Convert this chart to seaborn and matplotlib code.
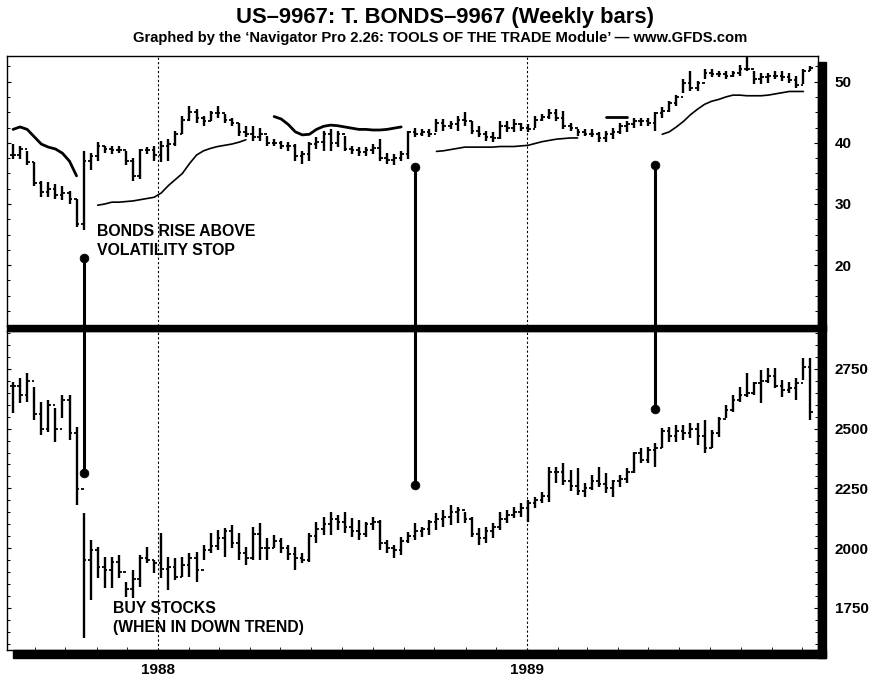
import numpy as np
import pandas as pd
import matplotlib
matplotlib.use("Agg")
import matplotlib.pyplot as plt
import matplotlib.dates as mdates
from matplotlib.patches import Rectangle
from matplotlib.ticker import MultipleLocator
import seaborn as sns

# ---- data (weekly bars, Aug 1987 - Oct 1989) ----
weeks = pd.date_range("1987-08-10", periods=114, freq="W-MON")

bond_high = [39.8, 39.5, 38.7, 36.8, 33.8, 33.6, 33.3, 33.0, 32.2, 30.8,
             38.7, 38.4, 40.1, 39.5, 39.5, 39.5, 38.7, 37.6, 39.0, 39.3,
             39.5, 40.3, 40.6, 42.0, 44.4, 46.0, 45.5, 44.4, 45.2, 46.0,
             44.7, 44.1, 43.3, 42.8, 42.8, 42.5, 41.2, 40.6, 40.3, 40.1,
             39.8, 38.7, 40.1, 40.9, 42.0, 42.2, 42.0, 41.2, 39.5, 39.3,
             39.3, 39.8, 40.6, 38.4, 38.2, 38.7, 42.0, 42.5, 42.2, 42.2,
             43.9, 43.9, 43.6, 44.4, 45.0, 43.6, 42.8, 42.0, 41.7, 43.6,
             43.6, 43.9, 43.3, 43.1, 44.4, 44.7, 45.5, 45.5, 45.2, 43.3,
             42.2, 42.2, 42.2, 41.7, 42.0, 42.5, 43.3, 43.6, 44.1, 44.1,
             44.1, 45.0, 45.8, 46.9, 47.9, 50.4, 51.7, 50.1, 52.0, 52.0,
             51.7, 51.7, 51.7, 52.8, 54.5, 51.7, 51.5, 51.5, 51.7, 51.7,
             51.5, 50.9, 52.0, 52.6]
bond_low = [37.4, 37.4, 36.3, 33.0, 31.1, 31.1, 30.8, 30.6, 30.0, 26.2,
            25.7, 35.5, 37.1, 38.4, 38.2, 38.4, 36.3, 33.8, 34.1, 38.2,
            37.1, 36.8, 37.1, 39.5, 41.4, 43.6, 43.3, 42.8, 43.6, 44.1,
            43.3, 42.8, 41.2, 40.9, 40.3, 40.3, 39.5, 39.5, 39.0, 38.7,
            37.1, 36.5, 37.1, 39.0, 38.7, 38.7, 39.3, 38.7, 38.2, 37.9,
            37.9, 38.2, 37.1, 36.5, 36.3, 37.1, 37.4, 40.9, 41.2, 40.9,
            41.7, 42.0, 42.2, 42.0, 42.8, 41.4, 40.9, 40.3, 40.1, 40.6,
            41.7, 41.7, 42.0, 41.7, 42.5, 43.6, 43.9, 43.6, 42.2, 42.0,
            41.2, 41.2, 40.9, 40.1, 40.1, 40.6, 41.4, 41.7, 42.5, 42.8,
            42.8, 42.0, 44.1, 45.0, 46.0, 48.2, 48.5, 48.5, 50.4, 50.7,
            50.7, 50.4, 50.7, 50.9, 51.7, 49.6, 49.6, 49.8, 50.4, 50.1,
            49.8, 49.0, 49.6, 51.7]
bond_close = [38.0, 39.0, 36.8, 33.5, 32.0, 32.5, 31.5, 31.8, 30.8, 26.8,
              37.0, 37.8, 39.5, 39.0, 38.8, 38.8, 37.0, 34.5, 38.8, 38.8,
              38.0, 39.5, 39.8, 41.5, 43.8, 45.0, 44.0, 43.5, 44.8, 44.8,
              43.8, 43.2, 41.8, 41.5, 41.0, 41.5, 40.0, 40.0, 39.5, 39.5,
              37.8, 38.2, 39.8, 40.2, 41.5, 40.0, 41.5, 39.0, 38.8, 38.5,
              38.8, 39.2, 37.5, 37.2, 37.5, 38.2, 41.8, 41.5, 41.8, 41.5,
              43.2, 42.8, 43.0, 43.8, 43.5, 42.0, 41.5, 41.0, 40.8, 42.8,
              42.5, 43.0, 42.5, 42.2, 43.8, 44.2, 44.8, 44.0, 42.8, 42.5,
              41.8, 41.5, 41.5, 40.8, 41.5, 41.8, 42.8, 43.0, 43.5, 43.5,
              43.2, 44.8, 45.2, 46.5, 47.5, 49.8, 49.0, 49.8, 51.5, 51.2,
              51.2, 51.0, 51.5, 52.0, 52.0, 50.5, 50.8, 51.0, 51.0, 50.8,
              50.2, 49.5, 51.8, 52.2]

# volatility stop, keyed by first week index of each segment
stop_short = {0: [42.2, 42.6, 42.2, 41.0, 39.8, 39.3, 39.0, 38.3, 37.0, 34.6],
              37: [44.3, 43.9, 43.0, 41.8, 41.3, 41.4, 42.2, 42.7, 42.9, 42.8,
                   42.6, 42.4, 42.2, 42.2, 42.1, 42.1, 42.2, 42.4, 42.6],
              84: [44.3, 44.3, 44.3, 44.3]}
stop_long = {12: [29.8, 30.0, 30.3, 30.3, 30.4, 30.5, 30.7, 30.9, 31.1, 31.8, 33.0,
                  34.0, 35.0, 36.6, 38.0, 38.7, 39.1, 39.4, 39.6, 39.8, 40.1, 40.5],
             60: [38.6, 38.7, 38.9, 39.1, 39.3, 39.3, 39.3, 39.3, 39.3, 39.4, 39.4,
                  39.4, 39.5, 39.6, 39.9, 40.2, 40.4, 40.6, 40.7, 40.8, 40.8],
             92: [41.4, 41.8, 42.6, 43.5, 44.6, 45.5, 46.3, 46.8, 47.1, 47.5, 47.8,
                  47.8, 47.7, 47.7, 47.7, 47.8, 48.0, 48.2, 48.4, 48.4, 48.4]}

djia_high = [2697, 2711, 2732, 2676, 2613, 2620, 2585, 2641, 2641, 2508,
             2145, 2034, 2006, 1964, 1964, 1971, 1859, 1908, 1971, 2006,
             1950, 2062, 1964, 1957, 1964, 1978, 1985, 2013, 2062, 2075,
             2082, 2096, 2062, 2006, 2089, 2103, 2041, 2055, 2041, 2013,
             2006, 1978, 2062, 2110, 2131, 2152, 2138, 2152, 2124, 2117,
             2110, 2131, 2117, 2034, 2013, 2048, 2069, 2103, 2089, 2117,
             2145, 2159, 2180, 2173, 2152, 2131, 2082, 2089, 2103, 2152,
             2159, 2173, 2187, 2201, 2215, 2236, 2341, 2341, 2355, 2327,
             2334, 2271, 2306, 2341, 2313, 2285, 2306, 2334, 2404, 2418,
             2425, 2439, 2501, 2508, 2515, 2515, 2522, 2522, 2536, 2494,
             2550, 2599, 2641, 2676, 2732, 2697, 2746, 2753, 2753, 2704,
             2697, 2711, 2795, 2795]
djia_low = [2564, 2606, 2613, 2536, 2473, 2487, 2446, 2543, 2453, 2180,
            1622, 1782, 1873, 1831, 1831, 1873, 1796, 1789, 1838, 1936,
            1894, 1873, 1824, 1866, 1880, 1880, 1859, 1950, 1978, 1992,
            1964, 1999, 1950, 1929, 1950, 1950, 1950, 1999, 1978, 1950,
            1908, 1936, 1943, 2020, 2055, 2055, 2075, 2062, 2048, 2034,
            2048, 2075, 1992, 1978, 1957, 1971, 2020, 2034, 2048, 2055,
            2075, 2089, 2096, 2103, 2103, 2048, 2013, 2020, 2041, 2075,
            2103, 2124, 2131, 2110, 2166, 2187, 2194, 2271, 2264, 2240,
            2222, 2215, 2243, 2257, 2229, 2215, 2257, 2271, 2313, 2355,
            2355, 2341, 2418, 2446, 2446, 2453, 2460, 2432, 2397, 2418,
            2466, 2543, 2571, 2613, 2634, 2641, 2606, 2690, 2669, 2634,
            2648, 2620, 2704, 2536]
djia_close = [2680, 2640, 2700, 2560, 2500, 2600, 2500, 2620, 2480, 2246,
              1950, 1990, 1920, 1910, 1940, 1900, 1830, 1870, 1960, 1950,
              1938, 1911, 1920, 1880, 1930, 1960, 1910, 1990, 2010, 2040,
              2070, 2020, 1980, 1960, 2060, 2000, 2000, 2030, 2000, 1975,
              1960, 1950, 2050, 2080, 2100, 2120, 2110, 2090, 2070, 2060,
              2100, 2110, 2020, 2000, 1990, 2030, 2050, 2070, 2080, 2110,
              2120, 2130, 2150, 2160, 2120, 2060, 2040, 2070, 2090, 2120,
              2140, 2150, 2168, 2190, 2200, 2220, 2320, 2320, 2280, 2260,
              2240, 2250, 2280, 2270, 2250, 2280, 2290, 2320, 2400, 2370,
              2410, 2420, 2490, 2470, 2490, 2480, 2500, 2470, 2420, 2480,
              2540, 2580, 2620, 2640, 2650, 2690, 2700, 2720, 2680, 2660,
              2670, 2690, 2760, 2570]

# signals linking the two panels
signal_week = [10, 57, 91]
bond_dot = [21.1, 36.0, 36.4]
stock_dot = [2314, 2264, 2582]

year_lines = pd.to_datetime(["1988-01-01", "1989-01-01"])

# ---- styling ----
sns.set_theme(style="white")
plt.rcParams["font.family"] = ["Liberation Sans", "DejaVu Sans"]
plt.rcParams["font.weight"] = "bold"
plt.rcParams["text.color"] = "black"

W, H = 872, 679
fig = plt.figure(figsize=(W / 100, H / 100), dpi=100)


def px_box(x0, y0, x1, y1):
    # pixel box (top-left origin) -> figure fraction [l, b, w, h]
    return [x0 / W, 1 - y1 / H, (x1 - x0) / W, (y1 - y0) / H]


ax1 = fig.add_axes(px_box(7, 56, 818, 326))
ax2 = fig.add_axes(px_box(7, 331, 818, 650), sharex=ax1)

# drop shadow / divider bars
for b in [(818, 62, 826, 658), (13, 650, 826, 658), (7, 325, 826, 331)]:
    l, bt, w, h = px_box(*b)
    fig.patches.append(Rectangle((l, bt), w, h, transform=fig.transFigure,
                                 color="black", zorder=5))


def ohlc(ax, hi, lo, cl):
    cl = np.asarray(cl, dtype=float)
    op = np.r_[cl[0], cl[:-1]]
    tick = pd.Timedelta(days=2.6)
    ax.vlines(weeks, lo, hi, color="black", lw=1.7, zorder=3)
    ax.hlines(op, weeks - tick, weeks, color="black", lw=1.3, zorder=3)
    ax.hlines(cl, weeks, weeks + tick, color="black", lw=1.3, zorder=3)


def stop_frame(segs):
    rows = []
    for k, (start, vals) in enumerate(segs.items()):
        for j, v in enumerate(vals):
            rows.append({"date": weeks[start + j], "stop": v, "seg": k})
    return pd.DataFrame(rows)


ohlc(ax1, bond_high, bond_low, bond_close)
sns.lineplot(data=stop_frame(stop_short), x="date", y="stop", units="seg",
             estimator=None, color="black", lw=2.0, ax=ax1)
sns.lineplot(data=stop_frame(stop_long), x="date", y="stop", units="seg",
             estimator=None, color="black", lw=1.2, ax=ax1)

ohlc(ax2, djia_high, djia_low, djia_close)

ylim1 = (10.05, 54.2)
ylim2 = (1573, 2909)
sig_dates = weeks[signal_week]
ax1.vlines(sig_dates, ylim1[0], bond_dot, color="black", lw=2.2, zorder=4)
ax2.vlines(sig_dates, stock_dot, ylim2[1], color="black", lw=2.2, zorder=4)
sns.scatterplot(x=sig_dates, y=bond_dot, color="black", s=40, ax=ax1, zorder=5,
                edgecolor="black")
sns.scatterplot(x=sig_dates, y=stock_dot, color="black", s=40, ax=ax2, zorder=5,
                edgecolor="black")

for ax in (ax1, ax2):
    for d in year_lines:
        ax.axvline(d, color="black", lw=0.8, ls=(0, (2, 2)), zorder=1)
    for s in ax.spines.values():
        s.set_color("black")
        s.set_linewidth(1.0)
    ax.set_xlabel("")
    ax.set_ylabel("")
    ax.yaxis.tick_right()
    ax.tick_params(axis="y", which="major", direction="in", length=3, width=0.8,
                   pad=12, labelsize=11, colors="black", left=True, right=True)
    ax.tick_params(axis="y", which="minor", direction="in", length=2.5, width=0.7,
                   left=True, right=True, colors="black")

ax1.set_xlim(weeks[0] - pd.Timedelta(days=6), weeks[-1] + pd.Timedelta(days=7.5))
ax1.set_ylim(*ylim1)
ax1.set_yticks([20, 30, 40, 50])
ax1.yaxis.set_minor_locator(MultipleLocator(2.5))
ax2.set_ylim(*ylim2)
ax2.set_yticks([1750, 2000, 2250, 2500, 2750])
ax2.yaxis.set_minor_locator(MultipleLocator(50))

ax1.tick_params(axis="x", which="both", bottom=False, labelbottom=False)
ax2.set_xticks(year_lines)
ax2.set_xticklabels(["1988", "1989"])
ax2.xaxis.set_minor_locator(mdates.MonthLocator())
ax2.tick_params(axis="x", which="major", length=0, pad=9, labelsize=11,
                colors="black")
ax2.tick_params(axis="x", which="minor", direction="in", length=2.5, width=0.7,
                bottom=True)
for lab in ax1.get_yticklabels() + ax2.get_yticklabels() + ax2.get_xticklabels():
    lab.set_fontweight("bold")

ax1.text(0.111, 0.378, "BONDS RISE ABOVE\nVOLATILITY STOP", transform=ax1.transAxes,
         ha="left", va="top", fontsize=11.4, fontweight="bold", linespacing=1.3,
         color="black")
ax2.text(0.1307, 0.153, "BUY STOCKS\n(WHEN IN DOWN TREND)", transform=ax2.transAxes,
         ha="left", va="top", fontsize=11.3, fontweight="bold", linespacing=1.3,
         color="black")

fig.text(445 / W, 1 - 18 / H, "US\u20139967: T. BONDS\u20139967 (Weekly bars)",
         ha="center", va="center", fontsize=15.8, fontweight="bold", color="black")
fig.text(440 / W, 1 - 38 / H,
         "Graphed by the \u2018Navigator Pro 2.26: TOOLS OF THE TRADE Module\u2019 \u2014 www.GFDS.com",
         ha="center", va="center", fontsize=10.6, fontweight="bold", color="black")

fig.savefig("out.png", dpi=100)
